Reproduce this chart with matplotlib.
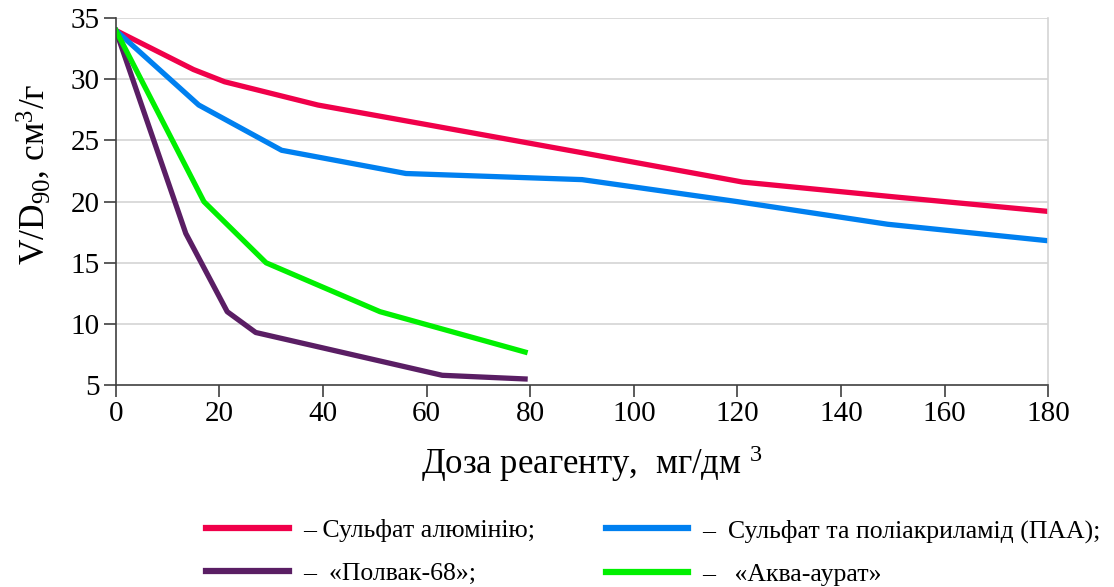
import matplotlib
matplotlib.use("Agg")
import matplotlib.pyplot as plt

plt.rcParams['font.family'] = ['Liberation Serif', 'DejaVu Serif']
plt.rcParams['mathtext.fontset'] = 'custom'
plt.rcParams['mathtext.rm'] = 'Liberation Serif'
plt.rcParams['mathtext.it'] = 'Liberation Serif:italic'
plt.rcParams['mathtext.bf'] = 'Liberation Serif:bold'

# Data
x_alum = [0, 15, 21, 39, 60, 90, 121, 150, 180]
y_alum = [34, 30.8, 29.8, 27.9, 26.3, 24.0, 21.6, 20.4, 19.2]

x_paa = [0, 16, 32, 56, 90, 120, 149, 180]
y_paa = [34, 27.9, 24.2, 22.3, 21.8, 20.0, 18.15, 16.8]

x_polvak = [0, 13.5, 21.5, 27, 63, 79]
y_polvak = [34, 17.4, 11.0, 9.3, 5.8, 5.5]

x_aqua = [0, 17, 29, 51, 79]
y_aqua = [34, 20.0, 15.0, 11.0, 7.7]

x_ticks = [0, 20, 40, 60, 80, 100, 120, 140, 160, 180]
y_ticks = [5, 10, 15, 20, 25, 30, 35]

labels = ["– Сульфат алюмінію;", "–  Сульфат та поліакриламід (ПАА);",
          "–  «Полвак-68»;", "–   «Аква-аурат»"]
colors = ["#F0004A", "#0080F0", "#5A1E64", "#00F000"]

fig = plt.figure(figsize=(11.14, 5.87), dpi=100)
ax = fig.add_axes([0.104, 0.344, 0.837, 0.625])

lw = 3.8
l1, = ax.plot(x_alum, y_alum, color=colors[0], lw=lw, solid_joinstyle='round')
l2, = ax.plot(x_paa, y_paa, color=colors[1], lw=lw, solid_joinstyle='round')
l3, = ax.plot(x_polvak, y_polvak, color=colors[2], lw=lw, solid_joinstyle='round')
l4, = ax.plot(x_aqua, y_aqua, color=colors[3], lw=lw, solid_joinstyle='round')

ax.set_xlim(0, 180)
ax.set_ylim(5, 35)
ax.set_xticks(x_ticks)
ax.set_yticks(y_ticks)
ax.set_xticklabels([str(v) for v in x_ticks])
ax.set_yticklabels([str(v) for v in y_ticks])

for yv in y_ticks[1:]:
    ax.axhline(yv, color='#d4d4d4', lw=1.2, zorder=0)

ax.spines['top'].set_visible(False)
ax.spines['right'].set_color('#d4d4d4')
ax.spines['right'].set_linewidth(1.2)
ax.spines['left'].set_color('#404040')
ax.spines['bottom'].set_color('#404040')
ax.spines['left'].set_linewidth(1.2)
ax.spines['bottom'].set_linewidth(1.2)
ax.tick_params(axis='both', direction='out', length=8.5, width=1.2, color='#404040',
               labelsize=21, pad=3)
ax.tick_params(axis='y', right=False)

ax.set_ylabel(r'V/D$_{90}$, см$^{3}$/г', fontsize=25.5)
ax.yaxis.set_label_coords(-0.068, 0.575)
ax.set_xlabel(r'Доза реагенту,  мг/дм $^{3}$', fontsize=25, labelpad=12)
ax.xaxis.label.set_x(0.511)

leg = fig.legend([l1, l3, l2, l4], [labels[0], labels[2], labels[1], labels[3]],
                 ncol=2, loc='upper left', bbox_to_anchor=(0.176, 0.133),
                 frameon=False, fontsize=18.5, handlelength=3.2, handletextpad=0.55,
                 columnspacing=2.78, labelspacing=0.78, borderaxespad=0)
for h in leg.legend_handles:
    h.set_linewidth(4.5)

fig.savefig("out.png", dpi=100)
